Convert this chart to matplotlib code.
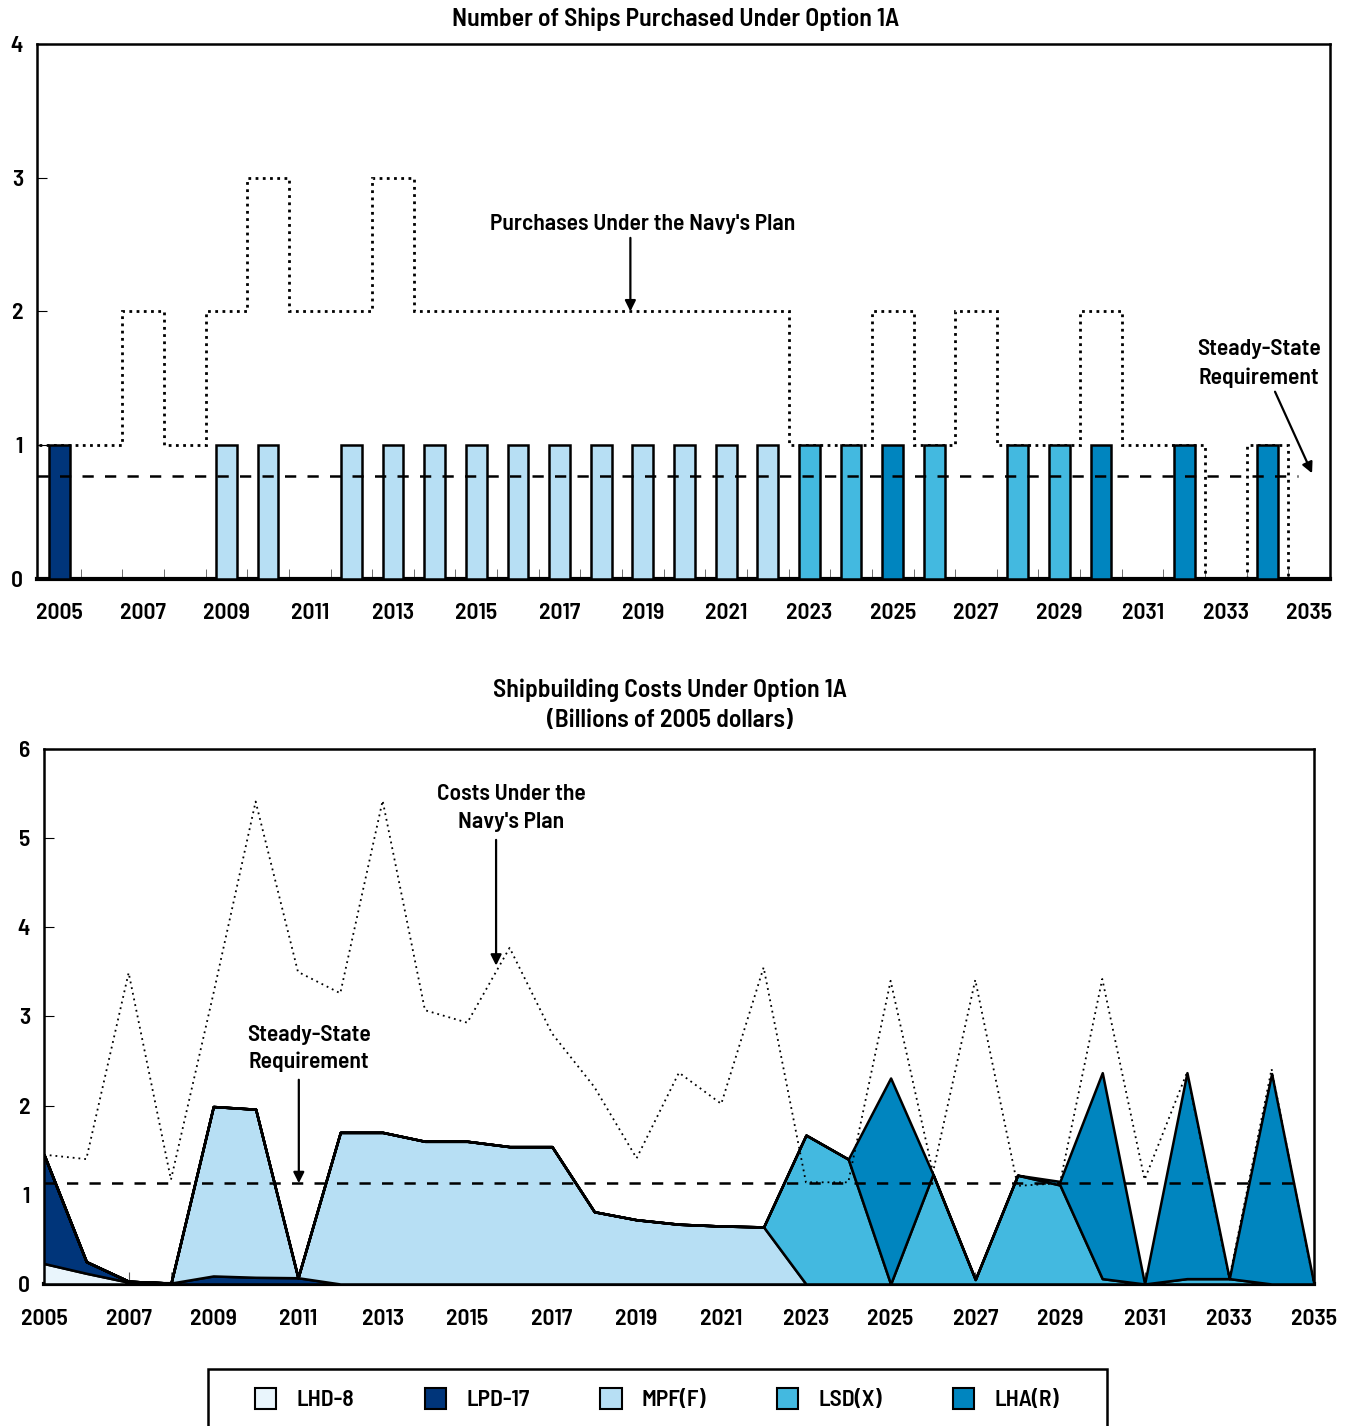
import matplotlib
matplotlib.use("Agg")
import matplotlib.pyplot as plt
from matplotlib.patches import Rectangle
import numpy as np

plt.rcParams['font.family'] = ['Barlow Semi Condensed', 'DejaVu Sans']
plt.rcParams['font.weight'] = 600
plt.rcParams['axes.titleweight'] = 600

# ---- data ----
years = np.arange(2005, 2036)

# ships purchased under option 1A (one per year where bought)
ships_lpd17 = {2005: 1}
ships_mpff = {2009: 1, 2010: 1, 2012: 1, 2013: 1, 2014: 1, 2015: 1, 2016: 1,
              2017: 1, 2018: 1, 2019: 1, 2020: 1, 2021: 1, 2022: 1}
ships_lsdx = {2023: 1, 2024: 1, 2026: 1, 2028: 1, 2029: 1}
ships_lhar = {2025: 1, 2030: 1, 2032: 1, 2034: 1}

# purchases under the Navy's plan, 2005..2035
navy_ships = [1, 1, 2, 1, 2, 3, 2, 2, 3, 2, 2, 2, 2, 2, 2, 2, 2, 2,
              1, 1, 2, 1, 2, 1, 1, 2, 1, 1, 0, 1, 0]
steady_ships = 0.77

# costs under option 1A, billions of 2005 dollars, 2005..2035
cost_lhd8 = [0.23, 0.12, 0.02, 0, 0, 0, 0, 0, 0, 0, 0, 0, 0, 0, 0, 0,
             0, 0, 0, 0, 0, 0, 0, 0, 0, 0, 0, 0, 0, 0, 0]
cost_lpd17 = [1.22, 0.13, 0.01, 0.01, 0.09, 0.075, 0.07, 0, 0, 0, 0, 0, 0, 0, 0, 0,
              0, 0, 0, 0, 0, 0, 0, 0, 0, 0, 0, 0, 0, 0, 0]
cost_mpff = [0, 0, 0, 0, 1.90, 1.885, 0, 1.70, 1.70, 1.60, 1.60, 1.54, 1.54, 0.81, 0.72, 0.67,
             0.65, 0.64, 0, 0, 0, 0, 0, 0, 0, 0, 0, 0, 0, 0, 0]
cost_lsdx = [0, 0, 0, 0, 0, 0, 0, 0, 0, 0, 0, 0, 0, 0, 0, 0,
             0, 0, 1.67, 1.40, 0, 1.23, 0.05, 1.22, 1.11, 0.06, 0, 0.06, 0.06, 0, 0]
cost_lhar = [0, 0, 0, 0, 0, 0, 0, 0, 0, 0, 0, 0, 0, 0, 0, 0,
             0, 0, 0, 0, 2.31, 0, 0, 0, 0.04, 2.31, 0, 2.31, 0, 2.36, 0]
navy_cost = [1.45, 1.40, 3.49, 1.17, 3.25, 5.41, 3.50, 3.26, 5.42, 3.07, 2.93, 3.77, 2.81, 2.21,
             1.41, 2.37, 2.02, 3.55, 1.14, 1.14, 3.40, 1.25, 3.41, 1.10, 1.13, 3.42, 1.17, 2.37,
             0.06, 2.41, 0]
steady_cost = 1.13

labels = ['LHD-8', 'LPD-17', 'MPF(F)', 'LSD(X)', 'LHA(R)']
colors = ['#e9f5fc', '#00357a', '#b7dff4', '#43b9e0', '#0085bf']

FS = 17
TFS = 18.5
arrow_kw = dict(arrowstyle='-|>', color='black', lw=1.6, mutation_scale=16,
                shrinkA=0, shrinkB=0)

fig = plt.figure(figsize=(13.49, 14.26), dpi=100)

# ---- top panel: number of ships ----
ax1 = fig.add_axes([0.0274, 0.594, 0.9585, 0.3752])
for data, col in [(ships_lpd17, colors[1]), (ships_mpff, colors[2]),
                  (ships_lsdx, colors[3]), (ships_lhar, colors[4])]:
    ax1.bar(list(data.keys()), list(data.values()), width=0.5, color=col,
            edgecolor='black', linewidth=1.8, zorder=3)

ax1.stairs(navy_ships, np.arange(2004.5, 2036.5), baseline=None, color='black',
           linewidth=2, linestyle=(0, (1, 1.6)), zorder=2)
ax1.axhline(steady_ships, xmin=0, xmax=0.975, color='black', linewidth=1.8,
            linestyle=(0, (4.5, 4.5)), zorder=4)

ax1.set_xlim(2004.45, 2035.5)
ax1.set_ylim(0, 4)
ax1.set_xticks(np.arange(2005, 2036, 2))
ax1.set_xticks(np.arange(2005.5, 2035, 1), minor=True)
ax1.tick_params(axis='x', which='major', length=0, pad=17, labelsize=FS)
ax1.tick_params(axis='x', which='minor', direction='in', length=7, color='#555555')
ax1.set_yticks(range(0, 5))
ax1.tick_params(axis='y', direction='in', length=7, pad=10, labelsize=FS)
for s in ax1.spines.values():
    s.set_linewidth(1.8)
ax1.spines['bottom'].set_linewidth(3)
ax1.set_title('Number of Ships Purchased Under Option 1A', fontsize=TFS, pad=13, x=0.494)

ax1.text(2019.0, 2.65, "Purchases Under the Navy's Plan", ha='center', va='center', fontsize=FS)
ax1.annotate('', xy=(2018.7, 2.0), xytext=(2018.7, 2.55), arrowprops=arrow_kw)
ax1.text(2033.8, 1.61, "Steady-State\nRequirement", ha='center', va='center',
         fontsize=FS, linespacing=1.5)
ax1.annotate('', xy=(2035.07, steady_ships + 0.02), xytext=(2034.18, 1.40), arrowprops=arrow_kw)

# ---- bottom panel: costs ----
ax2 = fig.add_axes([0.0326, 0.0996, 0.9414, 0.3752])
ax2.stackplot(years, cost_lhd8, cost_lpd17, cost_mpff, cost_lsdx, cost_lhar,
              colors=colors, labels=labels, edgecolor='black', linewidth=1.8, zorder=3)
ax2.plot(years, navy_cost, color='black', linewidth=1.3, linestyle=(0, (1, 2.2)), zorder=4)
ax2.axhline(steady_cost, xmin=0, xmax=0.99, color='black', linewidth=1.8,
            linestyle=(0, (4.5, 4.5)), zorder=5)

ax2.set_xlim(2005, 2035)
ax2.set_ylim(0, 6)
ax2.set_xticks(np.arange(2005, 2036, 2))
ax2.set_xticks(np.arange(2006, 2035, 2), minor=True)
ax2.tick_params(axis='x', which='both', direction='in', length=9, color='#555555',
                pad=18, labelsize=FS)
ax2.set_yticks(range(0, 7))
ax2.tick_params(axis='y', direction='in', length=7, pad=10, labelsize=FS)
for s in ax2.spines.values():
    s.set_linewidth(1.8)
ax2.spines['bottom'].set_linewidth(3)
ax2.set_title('Shipbuilding Costs Under Option 1A\n(Billions of 2005 dollars)',
              fontsize=TFS, pad=16, linespacing=1.4, x=0.493)

ax2.text(2016.03, 5.34, "Costs Under the\nNavy's Plan", ha='center', va='center',
         fontsize=FS, linespacing=1.5)
ax2.annotate('', xy=(2015.68, 3.57), xytext=(2015.68, 4.98), arrowprops=arrow_kw)
ax2.text(2011.26, 2.64, "Steady-State\nRequirement", ha='center', va='center',
         fontsize=FS, linespacing=1.4)
ax2.annotate('', xy=(2011.02, steady_cost), xytext=(2011.02, 2.29), arrowprops=arrow_kw)

# legend box (open at the bottom edge of the figure)
fig.patches.append(Rectangle((208 / 1349, -0.05), (1107 - 208) / 1349, 0.05 + 1 - 1369 / 1426,
                             transform=fig.transFigure, fill=False, edgecolor='black',
                             linewidth=1.8))
handles, labs = ax2.get_legend_handles_labels()
leg = fig.legend(handles, labs, loc='center left', bbox_to_anchor=(255 / 1349, 1 - 1399 / 1426),
                 ncol=5, fontsize=FS, frameon=False, borderpad=0, borderaxespad=0,
                 handlelength=0.9, handleheight=1.0, columnspacing=3.0, handletextpad=0.85)
for h in leg.legend_handles:
    h.set_linewidth(1.5)

fig.savefig('out.png', dpi=100)
